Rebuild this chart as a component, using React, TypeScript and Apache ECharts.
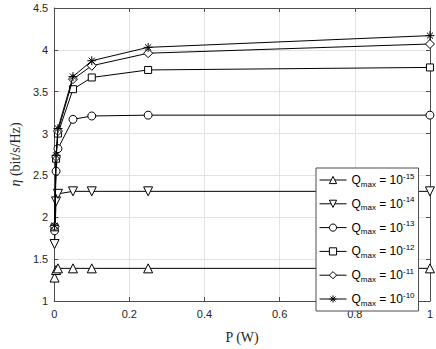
import React, { useEffect, useRef } from "react";
import * as echarts from "echarts";

const powers = [0.001, 0.005, 0.01, 0.05, 0.1, 0.25, 1];
const exponents = ["-15", "-14", "-13", "-12", "-11", "-10"];
const q15 = [1.28, 1.37, 1.39, 1.39, 1.39, 1.39, 1.39];
const q14 = [1.68, 2.19, 2.28, 2.31, 2.31, 2.31, 2.31];
const q13 = [1.84, 2.55, 2.82, 3.17, 3.21, 3.22, 3.22];
const q12 = [1.88, 2.7, 3.0, 3.53, 3.67, 3.76, 3.79];
const q11 = [1.89, 2.72, 3.03, 3.65, 3.81, 3.96, 4.07];
const q10 = [1.9, 2.74, 3.06, 3.68, 3.87, 4.03, 4.17];
const seriesValues = [q15, q14, q13, q12, q11, q10];

const STAR = "path://M5 0 L5 10 M0 5 L10 5 M1.6 1.6 L8.4 8.4 M1.6 8.4 L8.4 1.6";
const symbols = ["triangle", "triangle", "circle", "rect", "diamond", STAR];
const rotations = [0, 180, 0, 0, 0, 0];
const sizes = [9, 9, 8, 7, 9, 9];

export default function App() {
  const ref = useRef<HTMLDivElement>(null);
  useEffect(() => {
    if (!ref.current) return;
    const chart = echarts.init(ref.current, null, { renderer: "svg" });
    const axisColor = "#4d4d4d";
    const gridColor = "#e3e3e3";
    const sans = "Liberation Sans, Arial, sans-serif";
    const serif = "Liberation Serif, DejaVu Serif, serif";
    const labelStyle = { color: "#262626", fontSize: 11, fontFamily: sans };
    const names = exponents.map((e) => "Q_max = 10^" + e);
    const series = seriesValues.map((vals, i) => ({
      name: names[i],
      type: "line",
      data: powers.map((p, j) => [p, vals[j]]),
      symbol: symbols[i],
      symbolRotate: rotations[i],
      symbolSize: sizes[i],
      showAllSymbol: true,
      lineStyle: { color: "#000", width: 1 },
      itemStyle: { color: "#fff", borderColor: "#000", borderWidth: 1 },
      emphasis: { disabled: true },
      z: 2 + i,
    }));
    chart.setOption({
      animation: false,
      grid: { left: 44, right: 6, top: 8, bottom: 38, containLabel: false },
      xAxis: [
        {
          type: "value",
          min: 0,
          max: 1,
          interval: 0.2,
          name: "P (W)",
          nameLocation: "middle",
          nameGap: 29,
          nameTextStyle: { fontFamily: serif, fontSize: 14, color: "#262626" },
          axisLine: { show: true, lineStyle: { color: axisColor, width: 1 } },
          axisTick: { show: true, inside: true, length: 4, lineStyle: { color: axisColor } },
          axisLabel: { ...labelStyle, margin: 7 },
          splitLine: { show: true, lineStyle: { color: gridColor, width: 1 } },
        },
        {
          type: "value",
          position: "top",
          min: 0,
          max: 1,
          interval: 0.2,
          axisLine: { show: true, onZero: false, lineStyle: { color: axisColor, width: 1 } },
          axisTick: { show: true, inside: true, length: 4, lineStyle: { color: axisColor } },
          axisLabel: { show: false },
          splitLine: { show: false },
        },
      ],
      yAxis: [
        {
          type: "value",
          min: 1,
          max: 4.5,
          interval: 0.5,
          name: "{i|η} (bit/s/Hz)",
          nameLocation: "middle",
          nameGap: 31,
          nameRotate: 90,
          nameTextStyle: {
            fontFamily: serif,
            fontSize: 14,
            color: "#262626",
            rich: {
              i: { fontFamily: serif, fontStyle: "italic", fontSize: 14, color: "#262626" },
            },
          },
          axisLine: { show: true, lineStyle: { color: axisColor, width: 1 } },
          axisTick: { show: true, inside: true, length: 4, lineStyle: { color: axisColor } },
          axisLabel: { ...labelStyle, margin: 6 },
          splitLine: { show: true, lineStyle: { color: gridColor, width: 1 } },
        },
        {
          type: "value",
          position: "right",
          min: 1,
          max: 4.5,
          interval: 0.5,
          axisLine: { show: true, onZero: false, lineStyle: { color: axisColor, width: 1 } },
          axisTick: { show: true, inside: true, length: 4, lineStyle: { color: axisColor } },
          axisLabel: { show: false },
          splitLine: { show: false },
        },
      ],
      legend: {
        orient: "vertical",
        left: 316,
        top: 168,
        width: 104,
        padding: [4, 4, 4, 3],
        itemGap: 7.8,
        itemWidth: 27,
        itemHeight: 9,
        backgroundColor: "#fff",
        borderColor: "#4d4d4d",
        borderWidth: 1,
        borderRadius: 0,
        z: 20,
        data: names.map((n) => ({
          name: n,
          itemStyle: { color: "#fff", borderColor: "#000", borderWidth: 1 },
          lineStyle: { color: "#000", width: 1 },
        })),
        formatter: (name: string) => {
          const exp = name.split("^")[1];
          return "{q|Q}{sub|max}{eq| = 10}{sup|" + exp + "}";
        },
        textStyle: {
          color: "#000",
          fontFamily: sans,
          fontSize: 12,
          rich: {
            q: { fontSize: 12, lineHeight: 16, verticalAlign: "middle", color: "#000", fontFamily: sans },
            sub: { fontSize: 8, lineHeight: 8, verticalAlign: "bottom", color: "#000", fontFamily: sans },
            eq: { fontSize: 12, lineHeight: 16, verticalAlign: "middle", color: "#000", fontFamily: sans },
            sup: { fontSize: 8, lineHeight: 8, verticalAlign: "top", color: "#000", fontFamily: sans },
          },
        },
      },
      series,
    });
    return () => chart.dispose();
  }, []);
  return <div ref={ref} style={{ width: 436, height: 349, position: "absolute", left: 0, top: 0 }} />;
}
